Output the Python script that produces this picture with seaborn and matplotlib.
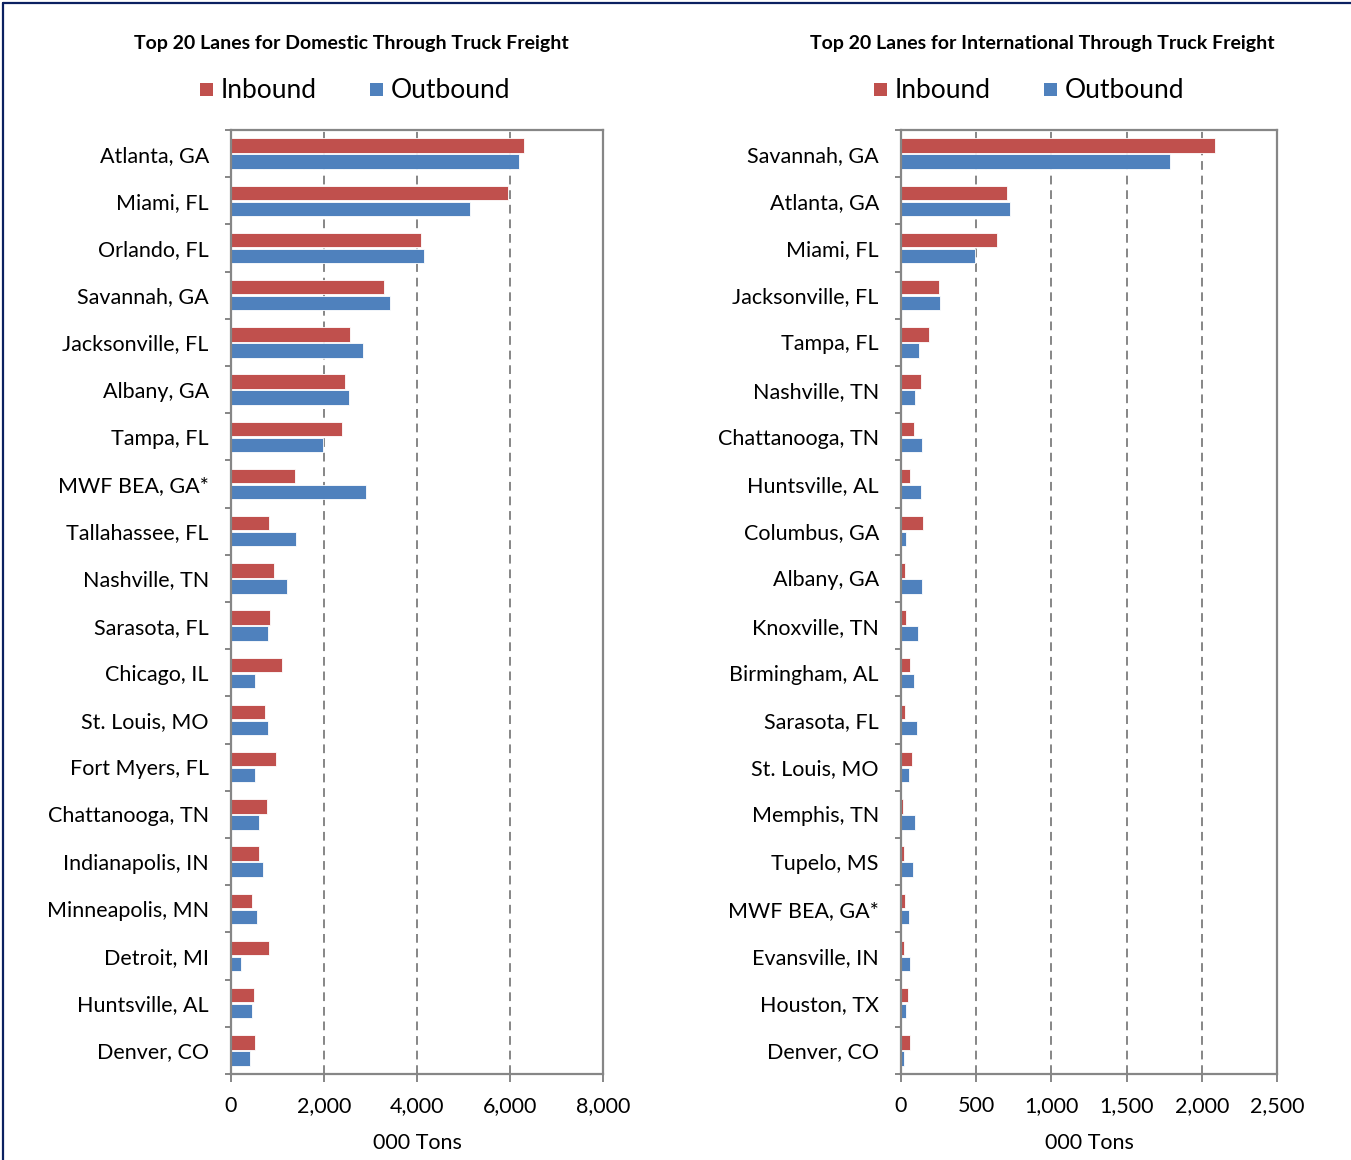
import matplotlib
matplotlib.use("Agg")
import matplotlib.pyplot as plt
from matplotlib.lines import Line2D
from matplotlib.patches import Rectangle
from matplotlib.ticker import FixedLocator, FuncFormatter
import seaborn as sns
import pandas as pd

# ---- data (thousand tons) ----
dom_cities = ["Atlanta, GA", "Miami, FL", "Orlando, FL", "Savannah, GA", "Jacksonville, FL",
              "Albany, GA", "Tampa, FL", "MWF BEA, GA*", "Tallahassee, FL", "Nashville, TN",
              "Sarasota, FL", "Chicago, IL", "St. Louis, MO", "Fort Myers, FL", "Chattanooga, TN",
              "Indianapolis, IN", "Minneapolis, MN", "Detroit, MI", "Huntsville, AL", "Denver, CO"]
dom_inbound = [6300, 5950, 4080, 3290, 2560, 2460, 2390, 1380, 820, 925,
               840, 1095, 730, 975, 770, 600, 450, 815, 500, 515]
dom_outbound = [6200, 5130, 4150, 3420, 2845, 2545, 1970, 2895, 1390, 1205,
                790, 515, 790, 510, 595, 690, 565, 210, 445, 415]

intl_cities = ["Savannah, GA", "Atlanta, GA", "Miami, FL", "Jacksonville, FL", "Tampa, FL",
               "Nashville, TN", "Chattanooga, TN", "Huntsville, AL", "Columbus, GA", "Albany, GA",
               "Knoxville, TN", "Birmingham, AL", "Sarasota, FL", "St. Louis, MO", "Memphis, TN",
               "Tupelo, MS", "MWF BEA, GA*", "Evansville, IN", "Houston, TX", "Denver, CO"]
intl_inbound = [2085, 705, 635, 255, 186, 133, 84, 62, 146, 27,
                33, 60, 29, 73, 11, 22, 27, 20, 44, 60]
intl_outbound = [1790, 725, 492, 260, 118, 95, 140, 133, 35, 138,
                 115, 86, 104, 51, 93, 80, 53, 58, 31, 18]

dom_ticks = [0, 2000, 4000, 6000, 8000]
intl_ticks = [0, 500, 1000, 1500, 2000, 2500]

titles = ["Top 20 Lanes for Domestic Through Truck Freight",
          "Top 20 Lanes for International Through Truck Freight"]
series_names = ["Inbound", "Outbound"]
x_label = "000 Tons"

RED = "#C0504D"
BLUE = "#4F81BD"
GRAY = "#868686"
NAVY = "#0B2161"
FONT = "Lato"

sns.set_theme(style="white")
plt.rcParams["font.family"] = [FONT, "DejaVu Sans"]

W, H = 1351, 1160
fig = plt.figure(figsize=(W / 100, H / 100), dpi=100)


def long_frame(cities, inbound, outbound):
    rows = []
    for c, i, o in zip(cities, inbound, outbound):
        rows.append({"city": c, "dir": series_names[0], "val": i})
        rows.append({"city": c, "dir": series_names[1], "val": o})
    return pd.DataFrame(rows)


def px_axes(x0, x1, y0, y1):
    return fig.add_axes([x0 / W, 1 - y1 / H, (x1 - x0) / W, (y1 - y0) / H])


panels = [
    (px_axes(231, 603, 130, 1074), dom_cities, dom_inbound, dom_outbound, dom_ticks, 351, (200, 370)),
    (px_axes(901, 1277, 130, 1074), intl_cities, intl_inbound, intl_outbound, intl_ticks, 1042, (874, 1044)),
]

for ax, cities, inb, outb, ticks, title_x, leg_x in panels:
    df = long_frame(cities, inb, outb)
    sns.barplot(data=df, y="city", x="val", hue="dir", order=cities,
                hue_order=series_names, palette=[RED, BLUE], saturation=1,
                orient="h", width=0.68, gap=0.1, edgecolor="white", linewidth=0.6,
                legend=False, ax=ax)
    ax.set_xlim(ticks[0], ticks[-1])
    ax.set_ylim(len(cities) - 0.5, -0.5)
    ax.set_xticks(ticks)
    ax.xaxis.set_major_formatter(FuncFormatter(lambda v, p: f"{int(v):,}"))
    ax.set_axisbelow(True)
    ax.grid(axis="x", color=GRAY, linewidth=1.4, linestyle=(0, (4.5, 3)))
    ax.grid(axis="y", visible=False)
    for s in ax.spines.values():
        s.set_color(GRAY)
        s.set_linewidth(1.6)
        s.set_visible(True)
    ax.tick_params(axis="x", direction="out", length=6, width=1.4, color=GRAY,
                   labelsize=15.5, pad=10, bottom=True)
    ax.tick_params(axis="y", which="major", length=0, pad=16, labelsize=15.5)
    ax.yaxis.set_minor_locator(FixedLocator([k - 0.5 for k in range(len(cities) + 1)]))
    ax.tick_params(axis="y", which="minor", direction="out", length=4, width=1.4,
                   color=GRAY, left=True)
    for lab in ax.get_xticklabels() + ax.get_yticklabels():
        lab.set_color("black")
    ax.set_ylabel("")
    ax.set_xlabel(x_label, fontsize=15.5, color="black", labelpad=12)

# titles
for (_, _, _, _, _, tx, _), t in zip(panels, titles):
    fig.text(tx / W, 1 - 43 / H, t, ha="center", va="center", fontsize=14,
             fontweight="bold", color="black")

# legends: square markers with labels
for ax, _, _, _, _, _, (lx_in, lx_out) in panels:
    for lx, name, col in [(lx_in, series_names[0], RED), (lx_out, series_names[1], BLUE)]:
        fig.patches.append(Rectangle(
            (lx / W, 1 - 96 / H), 13 / W, 13 / H, transform=fig.transFigure,
            facecolor=col, edgecolor="none"))
        fig.text((lx + 21) / W, 1 - 90 / H, name, ha="left", va="center",
                 fontsize=19, color="black")

# outer frame lines (left and top)
fig.add_artist(Line2D([3 / W, 3 / W], [0, 1 - 3 / H], transform=fig.transFigure,
                      color=NAVY, linewidth=1.6))
fig.add_artist(Line2D([3 / W, 1], [1 - 3 / H, 1 - 3 / H], transform=fig.transFigure,
                      color=NAVY, linewidth=1.6))

fig.savefig("out.png", dpi=100, facecolor="white")
